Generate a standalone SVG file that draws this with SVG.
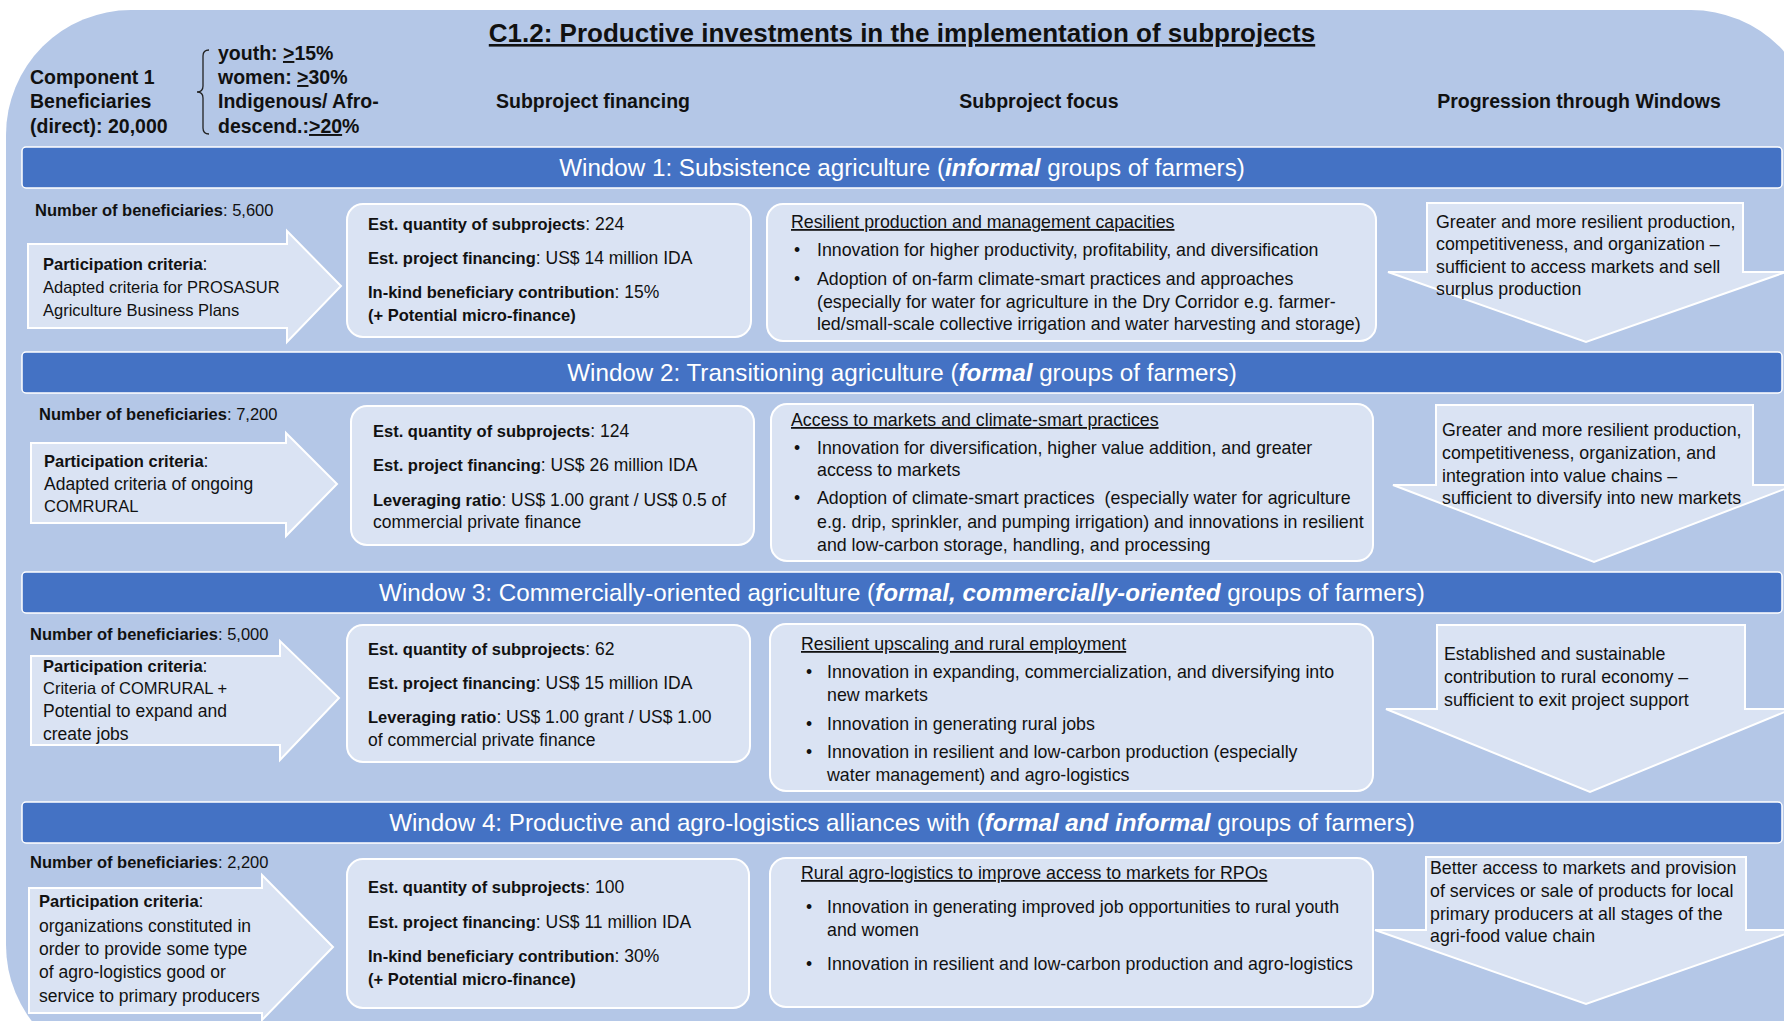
<svg xmlns="http://www.w3.org/2000/svg" width="1784" height="1021" viewBox="0 0 1784 1021">
<style>
text{font-family:"Liberation Sans",Arial,sans-serif;fill:#111;font-size:17.5px}
.b{font-weight:bold;font-size:16.5px}
.nb{font-size:16.5px}
.cp{font-size:16.5px}
.f{font-size:17.8px}
.u{text-decoration:underline}
.hd{font-size:19.5px;font-weight:bold}
.ttl{font-size:26px;font-weight:bold;text-anchor:middle;text-decoration:underline}
.wt{font-size:24.2px;fill:#fff;text-anchor:middle}
.bi{font-weight:bold;font-style:italic}
.bar{fill:#4472C4;stroke:#fff;stroke-width:1.5}
.box{fill:#DAE3F3;stroke:#fff;stroke-width:2}
.arr{fill:#DAE3F3;stroke:#fff;stroke-width:2}
.mid{text-anchor:middle}
</style>
<rect x="6" y="10" width="1810" height="1060" rx="125" fill="#B4C7E7"/>

<g id="header">
<text class="ttl" x="902" y="42">C1.2: Productive investments in the implementation of subprojects</text>
<text class="hd" x="30" y="84">Component 1</text>
<text class="hd" x="30" y="108">Beneficiaries</text>
<text class="hd" x="30" y="133">(direct): 20,000</text>
<text class="hd" x="218" y="60">youth: <tspan class="u">&gt;</tspan>15%</text>
<text class="hd" x="218" y="84">women: <tspan class="u">&gt;</tspan>30%</text>
<text class="hd" x="218" y="108">Indigenous/ Afro-</text>
<text class="hd" x="218" y="133">descend.:<tspan class="u">&gt;20</tspan>%</text>
<text class="hd mid" x="593" y="108">Subproject financing</text>
<text class="hd mid" x="1039" y="108">Subproject focus</text>
<text class="hd mid" x="1579" y="108">Progression through Windows</text>
</g>

<g id="connectors">
<path d="M209,50 Q203,50 203,56 L203,86 Q203,92 197,92 Q203,92 203,98 L203,128 Q203,134 209,134" fill="none" stroke="#222" stroke-width="1.3"/>
</g>

<!-- Window 1 -->
<g id="w1-bar">
<rect class="bar" x="22" y="147" width="1760" height="41" rx="4"/>
<text class="wt" x="902" y="176">Window 1: Subsistence agriculture (<tspan class="bi">informal</tspan> groups of farmers)</text>
</g>
<g id="w1-beneficiaries">
<text class="nb" x="35" y="216"><tspan class="b">Number of beneficiaries</tspan>: 5,600</text>
<path class="arr" d="M28,244 L287,244 L287,231 L341,286 L287,342 L287,328 L28,328 Z"/>
<text x="43" y="270"><tspan class="b">Participation criteria</tspan>:</text>
<text class="cp" x="43" y="293">Adapted criteria for PROSASUR</text>
<text class="cp" x="43" y="316">Agriculture Business Plans</text>
</g>
<g id="w1-financing">
<rect class="box" x="347" y="204" width="404" height="133" rx="16"/>
<text x="368" y="230"><tspan class="b">Est. quantity of subprojects</tspan>: 224</text>
<text x="368" y="264"><tspan class="b">Est. project financing</tspan>: US$ 14 million IDA</text>
<text x="368" y="298"><tspan class="b">In-kind beneficiary contribution</tspan>: 15%</text>
<text x="368" y="321" class="b">(+ Potential micro-finance)</text>
</g>
<g id="w1-focus">
<rect class="box" x="767" y="204" width="609" height="137" rx="16"/>
<text x="791" y="228" class="u f">Resilient production and management capacities</text>
<text x="794" y="256">•</text>
<text class="f" x="817" y="256">Innovation for higher productivity, profitability, and diversification</text>
<text x="794" y="285">•</text>
<text class="f" x="817" y="285">Adoption of on-farm climate-smart practices and approaches</text>
<text class="f" x="817" y="308">(especially for water for agriculture in the Dry Corridor e.g. farmer-</text>
<text class="f" x="817" y="330">led/small-scale collective irrigation and water harvesting and storage)</text>
</g>
<g id="w1-progression">
<path class="arr" d="M1427,203 L1743,203 L1743,272 L1786,272 L1586,342 L1388,272 L1427,272 Z"/>
<text class="f" x="1436" y="228">Greater and more resilient production,</text>
<text class="f" x="1436" y="250">competitiveness, and organization –</text>
<text class="f" x="1436" y="273">sufficient to access markets and sell</text>
<text class="f" x="1436" y="295">surplus production</text>
</g>

<!-- Window 2 -->
<g id="w2-bar">
<rect class="bar" x="22" y="352" width="1760" height="41" rx="4"/>
<text class="wt" x="902" y="381">Window 2: Transitioning agriculture (<tspan class="bi">formal</tspan> groups of farmers)</text>
</g>
<g id="w2-beneficiaries">
<text class="nb" x="39" y="420"><tspan class="b">Number of beneficiaries</tspan>: 7,200</text>
<path class="arr" d="M31,443 L286,443 L286,433 L337,484 L286,536 L286,523 L31,523 Z"/>
<text x="44" y="467"><tspan class="b">Participation criteria</tspan>:</text>
<text x="44" y="490">Adapted criteria of ongoing</text>
<text class="cp" x="44" y="512">COMRURAL</text>
</g>
<g id="w2-financing">
<rect class="box" x="351" y="406" width="403" height="139" rx="16"/>
<text x="373" y="437"><tspan class="b">Est. quantity of subprojects</tspan>: 124</text>
<text x="373" y="471"><tspan class="b">Est. project financing</tspan>: US$ 26 million IDA</text>
<text x="373" y="506"><tspan class="b">Leveraging ratio</tspan>: US$ 1.00 grant / US$ 0.5 of</text>
<text x="373" y="528">commercial private finance</text>
</g>
<g id="w2-focus">
<rect class="box" x="771" y="404" width="602" height="157" rx="16"/>
<text x="791" y="426" class="u f">Access to markets and climate-smart practices</text>
<text x="794" y="454">•</text>
<text class="f" x="817" y="454">Innovation for diversification, higher value addition, and greater</text>
<text class="f" x="817" y="476">access to markets</text>
<text x="794" y="504">•</text>
<text class="f" x="817" y="504">Adoption of climate-smart practices &#160;(especially water for agriculture</text>
<text class="f" x="817" y="528">e.g. drip, sprinkler, and pumping irrigation) and innovations in resilient</text>
<text class="f" x="817" y="551">and low-carbon storage, handling, and processing</text>
</g>
<g id="w2-progression">
<path class="arr" d="M1436,405 L1753,405 L1753,485 L1795,485 L1594,562 L1393,485 L1436,485 Z"/>
<text class="f" x="1442" y="436">Greater and more resilient production,</text>
<text class="f" x="1442" y="459">competitiveness, organization, and</text>
<text class="f" x="1442" y="482">integration into value chains –</text>
<text class="f" x="1442" y="504">sufficient to diversify into new markets</text>
</g>

<!-- Window 3 -->
<g id="w3-bar">
<rect class="bar" x="22" y="572" width="1760" height="41" rx="4"/>
<text class="wt" x="902" y="601">Window 3: Commercially-oriented agriculture (<tspan class="bi">formal, commercially-oriented</tspan> groups of farmers)</text>
</g>
<g id="w3-beneficiaries">
<text class="nb" x="30" y="640"><tspan class="b">Number of beneficiaries</tspan>: 5,000</text>
<path class="arr" d="M31,656 L280,656 L280,641 L339,698 L280,760 L280,745 L31,745 Z"/>
<text x="43" y="672"><tspan class="b">Participation criteria</tspan>:</text>
<text class="cp" x="43" y="694">Criteria of COMRURAL +</text>
<text x="43" y="717">Potential to expand and</text>
<text x="43" y="740">create jobs</text>
</g>
<g id="w3-financing">
<rect class="box" x="347" y="625" width="403" height="137" rx="16"/>
<text x="368" y="655"><tspan class="b">Est. quantity of subprojects</tspan>: 62</text>
<text x="368" y="689"><tspan class="b">Est. project financing</tspan>: US$ 15 million IDA</text>
<text x="368" y="723"><tspan class="b">Leveraging ratio</tspan>: US$ 1.00 grant / US$ 1.00</text>
<text x="368" y="746">of commercial private finance</text>
</g>
<g id="w3-focus">
<rect class="box" x="770" y="624" width="603" height="167" rx="16"/>
<text x="801" y="650" class="u f">Resilient upscaling and rural employment</text>
<text x="806" y="678">•</text>
<text class="f" x="827" y="678">Innovation in expanding, commercialization, and diversifying into</text>
<text class="f" x="827" y="701">new markets</text>
<text x="806" y="730">•</text>
<text class="f" x="827" y="730">Innovation in generating rural jobs</text>
<text x="806" y="758">•</text>
<text class="f" x="827" y="758">Innovation in resilient and low-carbon production (especially</text>
<text class="f" x="827" y="781">water management) and agro-logistics</text>
</g>
<g id="w3-progression">
<path class="arr" d="M1437,625 L1745,625 L1745,709 L1792,709 L1590,792 L1386,709 L1437,709 Z"/>
<text class="f" x="1444" y="660">Established and sustainable</text>
<text class="f" x="1444" y="683">contribution to rural economy –</text>
<text class="f" x="1444" y="706">sufficient to exit project support</text>
</g>

<!-- Window 4 -->
<g id="w4-bar">
<rect class="bar" x="22" y="802" width="1760" height="41" rx="4"/>
<text class="wt" x="902" y="831">Window 4: Productive and agro-logistics alliances with (<tspan class="bi">formal and informal</tspan> groups of farmers)</text>
</g>
<g id="w4-beneficiaries">
<text class="nb" x="30" y="868"><tspan class="b">Number of beneficiaries</tspan>: 2,200</text>
<path class="arr" d="M29,888 L262,888 L262,875 L333,947 L262,1020 L262,1013 L29,1013 Z"/>
<text x="39" y="907"><tspan class="b">Participation criteria</tspan>:</text>
<text x="39" y="932">organizations constituted in</text>
<text x="39" y="955">order to provide some type</text>
<text x="39" y="978">of agro-logistics good or</text>
<text x="39" y="1002">service to primary producers</text>
</g>
<g id="w4-financing">
<rect class="box" x="347" y="859" width="402" height="149" rx="16"/>
<text x="368" y="893"><tspan class="b">Est. quantity of subprojects</tspan>: 100</text>
<text x="368" y="928"><tspan class="b">Est. project financing</tspan>: US$ 11 million IDA</text>
<text x="368" y="962"><tspan class="b">In-kind beneficiary contribution</tspan>: 30%</text>
<text x="368" y="985" class="b">(+ Potential micro-finance)</text>
</g>
<g id="w4-focus">
<rect class="box" x="770" y="858" width="603" height="149" rx="16"/>
<text x="801" y="879" class="u f">Rural agro-logistics to improve access to markets for RPOs</text>
<text x="806" y="913">•</text>
<text class="f" x="827" y="913">Innovation in generating improved job opportunities to rural youth</text>
<text class="f" x="827" y="936">and women</text>
<text x="806" y="970">•</text>
<text class="f" x="827" y="970">Innovation in resilient and low-carbon production and agro-logistics</text>
</g>
<g id="w4-progression">
<path class="arr" d="M1426,857 L1746,857 L1746,930 L1797,930 L1586,1004 L1375,930 L1426,930 Z"/>
<text class="f" x="1430" y="874">Better access to markets and provision</text>
<text class="f" x="1430" y="897">of services or sale of products for local</text>
<text class="f" x="1430" y="920">primary producers at all stages of the</text>
<text class="f" x="1430" y="942">agri-food value chain</text>
</g>
</svg>
